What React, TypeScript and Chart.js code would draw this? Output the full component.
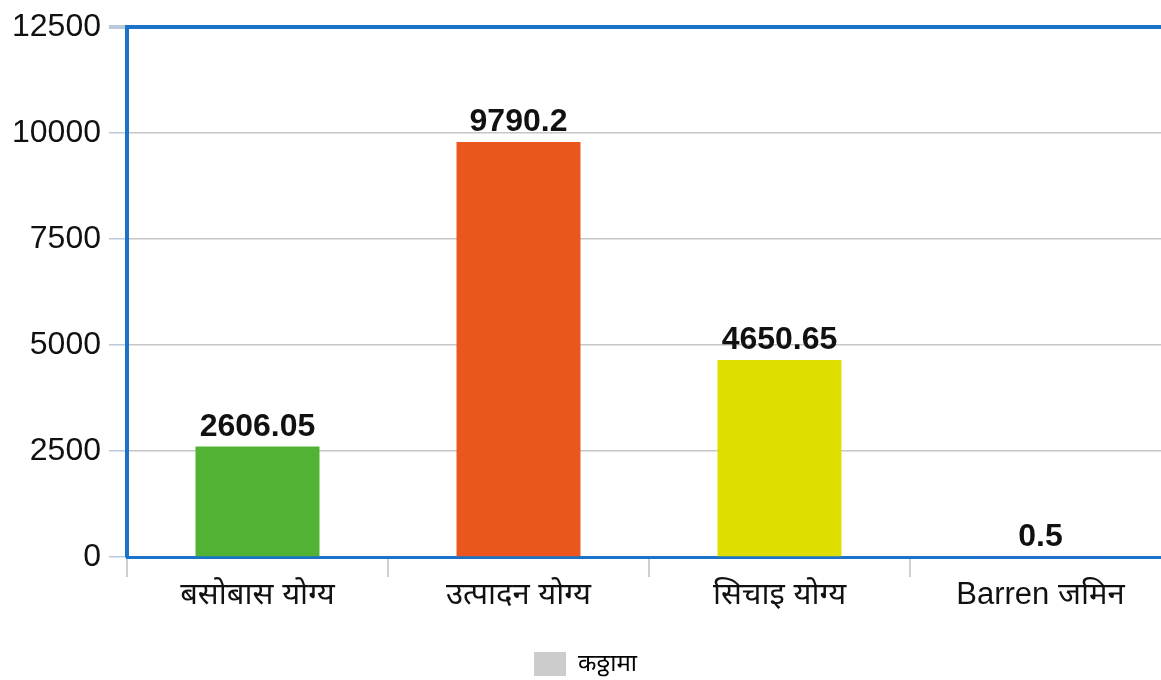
import React, { useEffect, useRef } from "react";
import { Chart, registerables } from "chart.js";

Chart.register(...registerables);

const categories = ["बसोबास योग्य", "उत्पादन योग्य", "सिचाइ योग्य", "Barren जमिन"];
const values = [2606.05, 9790.2, 4650.65, 0.5];
const barColors = ["#52b234", "#ea561e", "#dede00", "#3366cc"];
const seriesLabel = "कठ्ठामा";
const yTicks = [0, 2500, 5000, 7500, 10000, 12500];

const FONT = "Arial, 'Liberation Sans', 'Noto Sans', sans-serif";
const BLUE = "#1a73c8";
const GRID = "#c6c6c6";

const valueLabels = {
  id: "valueLabels",
  afterDatasetsDraw(chart: any) {
    const ctx = chart.ctx;
    const meta = chart.getDatasetMeta(0);
    ctx.save();
    ctx.font = `bold 32px ${FONT}`;
    ctx.fillStyle = "#111";
    ctx.textAlign = "center";
    ctx.textBaseline = "alphabetic";
    meta.data.forEach((bar: any, i: number) => {
      ctx.fillText(String(values[i]), bar.x, bar.y - 11);
    });
    ctx.restore();
  },
};

export default function App() {
  const ref = useRef<HTMLCanvasElement>(null);
  useEffect(() => {
    if (!ref.current) return;
    const chart = new Chart(ref.current, {
      type: "bar",
      data: {
        labels: categories,
        datasets: [
          {
            label: seriesLabel,
            data: values,
            backgroundColor: barColors,
            categoryPercentage: 1,
            barPercentage: 0.475,
          },
        ],
      },
      options: {
        animation: false,
        responsive: false,
        devicePixelRatio: 1,
        layout: { padding: { top: 4, right: 0, left: 0, bottom: 0 } },
        plugins: {
          tooltip: { enabled: false },
          legend: {
            position: "bottom",
            labels: {
              boxWidth: 32,
              boxHeight: 24,
              padding: 0,
              color: "#444",
              font: { size: 24, family: FONT },
              generateLabels: () => [
                {
                  text: seriesLabel,
                  fillStyle: "#cccccc",
                  strokeStyle: "#cccccc",
                  lineWidth: 0,
                  hidden: false,
                  datasetIndex: 0,
                },
              ],
            },
          },
        },
        scales: {
          x: {
            afterFit: (s: any) => {
              s.height = 95;
            },
            grid: {
              offset: true,
              drawOnChartArea: false,
              drawTicks: true,
              tickLength: 20,
              tickColor: "#cfcfcf",
              lineWidth: 2,
            },
            border: { color: BLUE, width: 3 },
            ticks: {
              color: "#111",
              padding: 0,
              font: { size: 31, family: FONT },
            },
          },
          y: {
            min: 0,
            max: 12500,
            afterFit: (s: any) => {
              s.width = 127;
            },
            afterBuildTicks: (s: any) => {
              s.ticks = yTicks.map((v) => ({ value: v }));
            },
            grid: {
              color: (c: any) => (c.tick && c.tick.value === 12500 ? BLUE : GRID),
              lineWidth: (c: any) => (c.tick && c.tick.value === 12500 ? 4 : 1.5),
              tickColor: "#b8cadb",
              tickLength: 18,
            },
            border: { color: BLUE, width: 4 },
            ticks: {
              color: "#111",
              padding: 8,
              font: { size: 32, family: FONT },
              callback: (v: any) => String(v),
            },
          },
        },
      },
      plugins: [valueLabels],
    });
    return () => chart.destroy();
  }, []);
  return (
    <div
      style={{
        position: "absolute",
        left: 0,
        top: 0,
        width: 1161,
        height: 680,
        overflow: "hidden",
      }}
    >
      <canvas ref={ref} width={1171} height={686} />
    </div>
  );
}
